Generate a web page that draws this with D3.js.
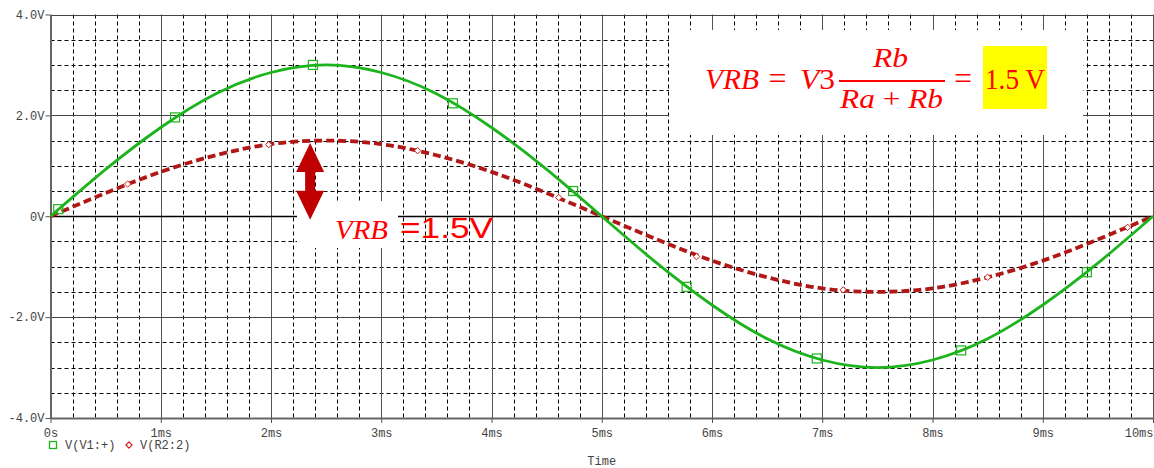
<!DOCTYPE html>
<html>
<head>
<meta charset="utf-8">
<script src="https://cdn.jsdelivr.net/npm/d3@7"></script>
<style>
  body { margin: 0; background: #fff; }
  svg { display: block; }
</style>
</head>
<body>
<div id="chart"></div>
<script>
// transient analysis, values (time in ms, volts)
var times = [0, 0.5, 1, 1.5, 2, 2.5, 3, 3.5, 4, 4.5, 5, 5.5, 6, 6.5, 7, 7.5, 8, 8.5, 9, 9.5, 10];
var v1 = [0, 0.93, 1.76, 2.43, 2.85, 3.0, 2.85, 2.43, 1.76, 0.93, 0, -0.93, -1.76, -2.43, -2.85, -3.0, -2.85, -2.43, -1.76, -0.93, 0];
var vr2 = [0, 0.46, 0.88, 1.21, 1.43, 1.5, 1.43, 1.21, 0.88, 0.46, 0, -0.46, -0.88, -1.21, -1.43, -1.5, -1.43, -1.21, -0.88, -0.46, 0];

// marker symbols drawn on each trace
var v1MarkT = [0.07, 1.13, 2.38, 3.65, 4.74, 5.77, 6.95, 8.26, 9.40];
var v1MarkV = [0.14, 1.96, 3.0, 2.24, 0.50, -1.40, -2.82, -2.66, -1.11];
var vr2MarkT = [0.70, 1.98, 3.33, 4.61, 5.86, 7.19, 8.50, 9.77];
var vr2MarkV = [0.64, 1.42, 1.30, 0.37, -0.80, -1.46, -1.21, -0.22];

var xTicks = [0, 1, 2, 3, 4, 5, 6, 7, 8, 9, 10];
var xTickLabels = ['0s', '1ms', '2ms', '3ms', '4ms', '5ms', '6ms', '7ms', '8ms', '9ms', '10ms'];
var yTicks = [4, 2, 0, -2, -4];
var yTickLabels = ['4.0V', '2.0V', '0V', '-2.0V', '-4.0V'];
var seriesNames = ['V(V1:+)', 'V(R2:2)'];

var width = 1154, height = 468;
var green = '#1cb41c', red = '#b01818';
var mono = '"Liberation Mono", "DejaVu Sans Mono", monospace';
var serif = '"Liberation Serif", "DejaVu Serif", serif';

var x = d3.scaleLinear().domain([0, 10]).range([50.5, 1153]);
var y = d3.scaleLinear().domain([-4, 4]).range([418, 14.5]);

function px(v) { return Math.round(v) + 0.5; }

var svg = d3.select('#chart')
  .append('svg')
  .attr('width', width)
  .attr('height', height);

svg.append('rect')
  .attr('width', width)
  .attr('height', height)
  .attr('fill', '#fff');

var grid = svg.append('g').attr('class', 'grid');

// minor grid: 0.2ms and 0.5V steps, dashed
var minorX = d3.range(0, 50).filter(function (i) { return i % 5 !== 0; }).map(function (i) { return i / 5; });
var minorY = d3.range(-8, 8).filter(function (i) { return i % 4 !== 0; }).map(function (i) { return i / 2; });

grid.selectAll('.minorX')
  .data(minorX)
  .enter().append('line')
  .attr('x1', function (d) { return px(x(d)); })
  .attr('x2', function (d) { return px(x(d)); })
  .attr('y1', y(4))
  .attr('y2', y(-4))
  .attr('stroke', '#000')
  .attr('stroke-dasharray', '4,3');

grid.selectAll('.minorY')
  .data(minorY)
  .enter().append('line')
  .attr('x1', x(0))
  .attr('x2', x(10))
  .attr('y1', function (d) { return px(y(d)); })
  .attr('y2', function (d) { return px(y(d)); })
  .attr('stroke', '#000')
  .attr('stroke-dasharray', '4,3');

// major grid: solid
grid.selectAll('.majorX')
  .data(xTicks)
  .enter().append('line')
  .attr('x1', function (d) { return px(x(d)); })
  .attr('x2', function (d) { return px(x(d)); })
  .attr('y1', y(4))
  .attr('y2', y(-4))
  .attr('stroke', '#555');

grid.selectAll('.majorY')
  .data(yTicks)
  .enter().append('line')
  .attr('x1', x(0))
  .attr('x2', x(10))
  .attr('y1', function (d) { return px(y(d)); })
  .attr('y2', function (d) { return px(y(d)); })
  .attr('stroke', function (d) { return d === 0 ? '#000' : '#444'; })
  .attr('stroke-width', function (d) { return d === 0 ? 1.5 : 1; });

// axes
var yAxis = svg.append('g')
  .attr('transform', 'translate(' + x(0) + ',0)')
  .call(d3.axisLeft(y).tickValues(yTicks).tickSize(5).tickSizeOuter(0).tickPadding(1)
    .tickFormat(function (d, i) { return yTickLabels[i]; }));

var xAxis = svg.append('g')
  .attr('transform', 'translate(0,' + y(-4) + ')')
  .call(d3.axisBottom(x).tickValues(xTicks).tickSize(5).tickSizeOuter(0).tickPadding(5.5)
    .tickFormat(function (d, i) { return xTickLabels[i]; }));

svg.selectAll('.domain').attr('stroke', '#666').attr('stroke-width', 2);
svg.selectAll('.tick line').attr('stroke', '#555');
svg.selectAll('.tick text')
  .attr('fill', '#444')
  .style('font-family', mono)
  .style('font-size', '12px');
xAxis.selectAll('.tick text')
  .filter(function (d) { return d === 10; })
  .attr('text-anchor', 'end');

svg.append('text')
  .attr('x', x(5))
  .attr('y', 465)
  .attr('text-anchor', 'middle')
  .attr('fill', '#444')
  .style('font-family', mono)
  .style('font-size', '12px')
  .text('Time');

// legend
var legend = svg.append('g').attr('transform', 'translate(0,445)');
legend.append('rect')
  .attr('x', 49.5).attr('y', -3.5)
  .attr('width', 7).attr('height', 7)
  .attr('fill', 'none').attr('stroke', green).attr('stroke-width', 1.3);
legend.append('text')
  .attr('x', 65).attr('y', 4)
  .attr('fill', '#444')
  .style('font-family', mono).style('font-size', '12px')
  .text(seriesNames[0]);
legend.append('path')
  .attr('d', d3.symbol().type(d3.symbolDiamond2).size(24))
  .attr('transform', 'translate(129,0)')
  .attr('fill', 'none').attr('stroke', '#d02020').attr('stroke-width', 1.2);
legend.append('text')
  .attr('x', 140).attr('y', 4)
  .attr('fill', '#444')
  .style('font-family', mono).style('font-size', '12px')
  .text(seriesNames[1]);

// traces
var line = d3.line()
  .curve(d3.curveNatural)
  .x(function (d, i) { return x(times[i]); })
  .y(function (d) { return y(d); });

svg.append('path')
  .datum(vr2)
  .attr('d', line)
  .attr('fill', 'none')
  .attr('stroke', red)
  .attr('stroke-width', 3.8)
  .attr('stroke-dasharray', '8,4');

svg.append('path')
  .datum(v1)
  .attr('d', line)
  .attr('fill', 'none')
  .attr('stroke', green)
  .attr('stroke-width', 2.8);

svg.selectAll('.v1mark')
  .data(v1MarkT)
  .enter().append('rect')
  .attr('x', function (d) { return x(d) - 4.5; })
  .attr('y', function (d, i) { return y(v1MarkV[i]) - 4.5; })
  .attr('width', 9).attr('height', 9)
  .attr('fill', 'none')
  .attr('stroke', green)
  .attr('stroke-width', 1.2);

svg.selectAll('.vr2mark')
  .data(vr2MarkT)
  .enter().append('path')
  .attr('d', d3.symbol().type(d3.symbolDiamond2).size(26))
  .attr('transform', function (d, i) { return 'translate(' + x(d) + ',' + y(vr2MarkV[i]) + ')'; })
  .attr('fill', '#fff')
  .attr('stroke', '#d02020')
  .attr('stroke-width', 1);

// formula box
var f = svg.append('g').attr('fill', '#ff0000');
f.append('rect')
  .attr('x', 669).attr('y', 30)
  .attr('width', 414).attr('height', 105)
  .attr('fill', '#fff');
f.append('rect')
  .attr('x', 983).attr('y', 46)
  .attr('width', 64).attr('height', 63)
  .attr('fill', '#ffff00');
f.append('text')
  .attr('x', 705).attr('y', 89)
  .attr('textLength', 54).attr('lengthAdjust', 'spacingAndGlyphs')
  .style('font-family', serif).style('font-style', 'italic').style('font-size', '30px')
  .text('VRB');
f.append('text')
  .attr('x', 777.5).attr('y', 89).attr('text-anchor', 'middle')
  .style('font-family', serif).style('font-size', '32px')
  .text('=');
var v3 = f.append('text')
  .attr('x', 800).attr('y', 89)
  .attr('textLength', 35).attr('lengthAdjust', 'spacingAndGlyphs')
  .style('font-family', serif).style('font-size', '30px');
v3.append('tspan').style('font-style', 'italic').text('V');
v3.append('tspan').text('3');
f.append('line')
  .attr('x1', 839).attr('x2', 945)
  .attr('y1', 81).attr('y2', 81)
  .attr('stroke', '#ff0000').attr('stroke-width', 2);
f.append('text')
  .attr('x', 873).attr('y', 67)
  .attr('textLength', 35).attr('lengthAdjust', 'spacingAndGlyphs')
  .style('font-family', serif).style('font-style', 'italic').style('font-size', '28px')
  .text('Rb');
var den = f.append('text')
  .attr('x', 840).attr('y', 108)
  .attr('textLength', 103).attr('lengthAdjust', 'spacingAndGlyphs')
  .style('font-family', serif).style('font-size', '28px');
den.append('tspan').style('font-style', 'italic').text('Ra');
den.append('tspan').text(' + ');
den.append('tspan').style('font-style', 'italic').text('Rb');
f.append('text')
  .attr('x', 963).attr('y', 89).attr('text-anchor', 'middle')
  .style('font-family', serif).style('font-size', '32px')
  .text('=');
f.append('text')
  .attr('x', 985).attr('y', 89)
  .attr('textLength', 60).attr('lengthAdjust', 'spacingAndGlyphs')
  .style('font-family', serif).style('font-size', '30px')
  .text('1.5 V');

// VRB amplitude annotation
var ann = svg.append('g');
ann.append('rect')
  .attr('x', 297).attr('y', 201)
  .attr('width', 101).attr('height', 47)
  .attr('fill', '#fff');

var arrowX = x(2.355), arrowTop = y(1.45), arrowBot = y(-0.07);
ann.append('path')
  .attr('d', 'M' + arrowX + ',' + arrowTop +
    'L' + (arrowX + 14) + ',' + (arrowTop + 29) + 'L' + (arrowX + 5) + ',' + (arrowTop + 29) +
    'L' + (arrowX + 5) + ',' + (arrowBot - 29) + 'L' + (arrowX + 14) + ',' + (arrowBot - 29) +
    'L' + arrowX + ',' + arrowBot +
    'L' + (arrowX - 14) + ',' + (arrowBot - 29) + 'L' + (arrowX - 5) + ',' + (arrowBot - 29) +
    'L' + (arrowX - 5) + ',' + (arrowTop + 29) + 'L' + (arrowX - 14) + ',' + (arrowTop + 29) + 'Z')
  .attr('fill', '#c00000');

ann.append('text')
  .attr('x', 335).attr('y', 239)
  .attr('textLength', 53).attr('lengthAdjust', 'spacingAndGlyphs')
  .attr('fill', '#ff0000')
  .style('font-family', serif).style('font-style', 'italic').style('font-size', '27px')
  .text('VRB');
ann.append('text')
  .attr('x', 400).attr('y', 238)
  .attr('textLength', 93).attr('lengthAdjust', 'spacingAndGlyphs')
  .attr('fill', '#ff0000')
  .style('font-family', '"Liberation Sans", Arial, sans-serif').style('font-size', '29px')
  .text('=1.5V');
</script>
</body>
</html>
